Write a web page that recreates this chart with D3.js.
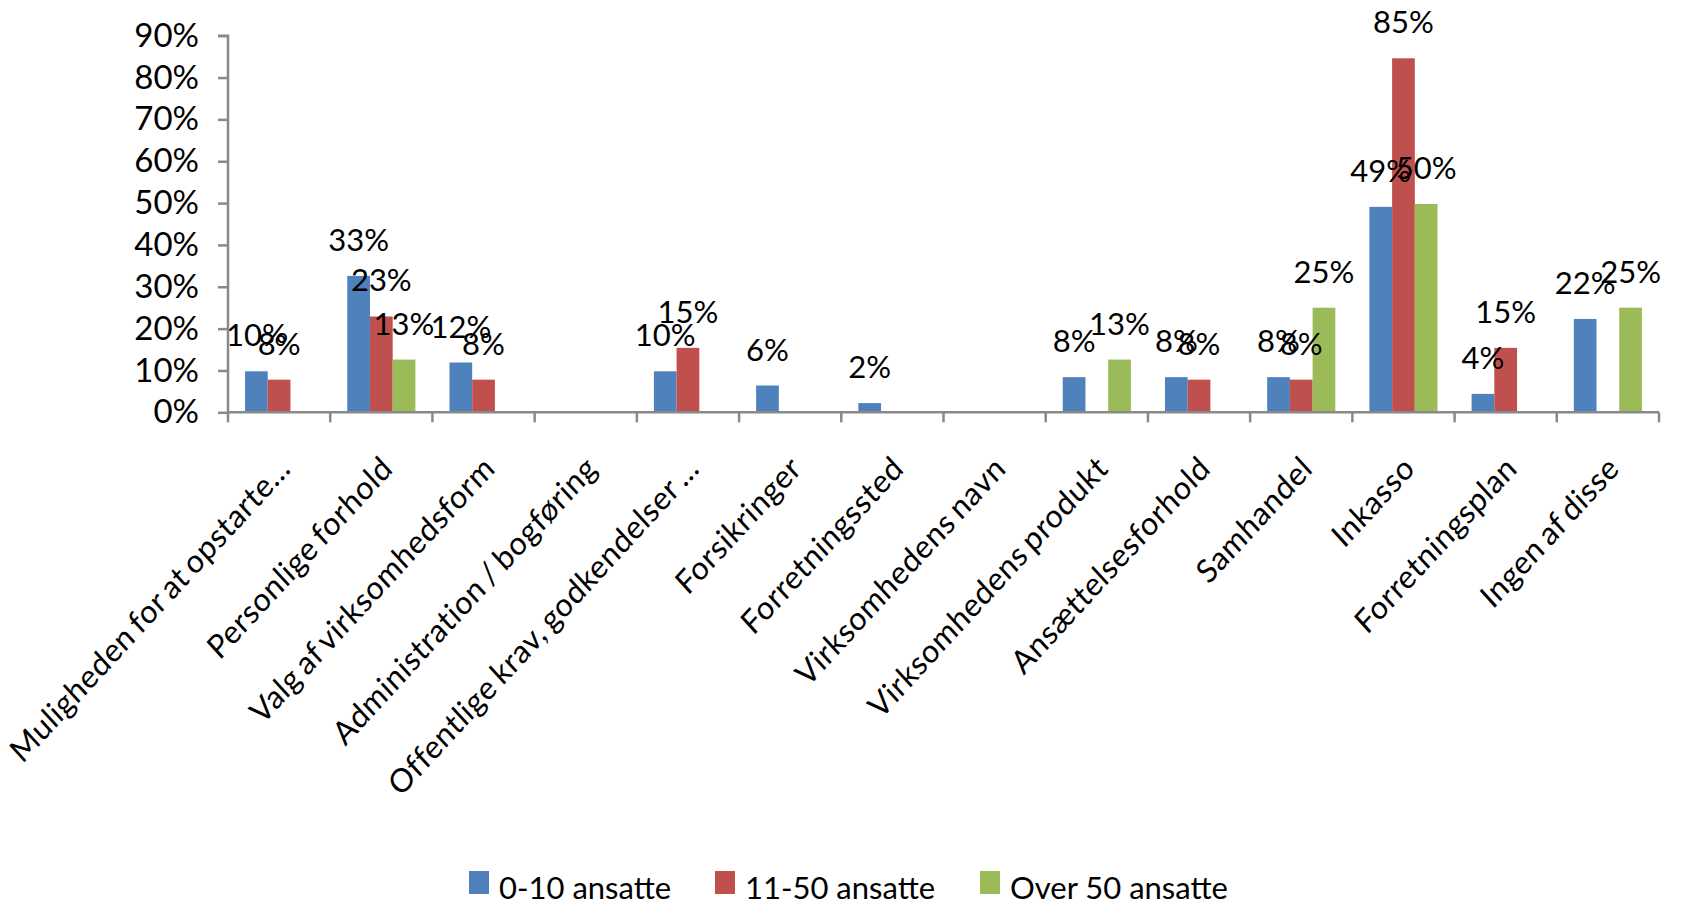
<!DOCTYPE html>
<html>
<head>
<meta charset="utf-8">
<script src="https://cdn.jsdelivr.net/npm/d3@7"></script>
<style>
  html, body { margin: 0; padding: 0; background: #ffffff; }
  svg { display: block; }
  text { font-family: Lato, "Open Sans", sans-serif; fill: #000; }
</style>
</head>
<body>
<svg id="chart" width="1683" height="906"></svg>
<script>
const categories = [
  "Muligheden for at opstarte...",
  "Personlige forhold",
  "Valg af virksomhedsform",
  "Administration / bogføring",
  "Offentlige krav, godkendelser ...",
  "Forsikringer",
  "Forretningssted",
  "Virksomhedens navn",
  "Virksomhedens produkt",
  "Ansættelsesforhold",
  "Samhandel",
  "Inkasso",
  "Forretningsplan",
  "Ingen af disse"
];
const seriesNames = ["0-10 ansatte", "11-50 ansatte", "Over 50 ansatte"];
const values0to10 = [0.098, 0.326, 0.119, 0, 0.098, 0.064, 0.022, 0, 0.084, 0.084, 0.084, 0.491, 0.044, 0.223];
const values11to50 = [0.078, 0.229, 0.078, 0, 0.154, 0, 0, 0, 0, 0.078, 0.078, 0.846, 0.154, 0];
const valuesOver50 = [0, 0.126, 0, 0, 0, 0, 0, 0, 0.126, 0, 0.25, 0.498, 0, 0.25];
const yTicks = [0, 0.1, 0.2, 0.3, 0.4, 0.5, 0.6, 0.7, 0.8, 0.9];
const colors = ["#4F81BD", "#C0504D", "#9BBB59"];

const seriesValues = [values0to10, values11to50, valuesOver50];

const svg = d3.select("#chart");
const plotLeft = 228, plotRight = 1659, plotTop = 35.7, plotBottom = 412.3;

const x0 = d3.scaleBand().domain(categories).range([plotLeft, plotRight]).paddingInner(0).paddingOuter(0);
const bw = x0.bandwidth() / 4.5;
const x1 = d3.scaleBand().domain(seriesNames)
  .range([(x0.bandwidth() - 3 * bw) / 2, (x0.bandwidth() + 3 * bw) / 2]);
const y = d3.scaleLinear().domain([0, 0.9]).range([plotBottom, plotTop]);

const axisColor = "#898989";
const pointsFor = (c, i) => seriesNames.map((s, j) => ({ s, j, v: seriesValues[j][i] })).filter(d => d.v > 0);

// bars
const groups = svg.append("g").selectAll("g")
  .data(categories).join("g")
  .attr("transform", d => `translate(${x0(d)},0)`);

groups.selectAll("rect")
  .data(pointsFor)
  .join("rect")
  .attr("x", d => x1(d.s))
  .attr("width", x1.bandwidth())
  .attr("y", d => y(d.v))
  .attr("height", d => plotBottom - y(d.v))
  .attr("fill", d => colors[d.j]);

// y axis
const yAxis = d3.axisLeft(y).tickValues(yTicks).tickFormat(d3.format(".0%")).tickSize(10).tickPadding(19);
const gy = svg.append("g").attr("transform", `translate(${plotLeft},0)`).call(yAxis);
gy.select(".domain").attr("stroke", axisColor).attr("stroke-width", 2.5)
  .attr("d", `M-10,${plotTop}H0V${plotBottom}`);
gy.selectAll(".tick line").attr("stroke", axisColor).attr("stroke-width", 2.5);
gy.selectAll(".tick text").attr("font-size", 33).attr("font-family", "Lato").attr("fill", "#000");

// x axis
const xAxisG = svg.append("g");
xAxisG.append("line").attr("x1", plotLeft - 1).attr("x2", plotRight).attr("y1", plotBottom).attr("y2", plotBottom)
  .attr("stroke", axisColor).attr("stroke-width", 2.5);
const boundaries = categories.map(c => x0(c)).concat([plotRight]);
xAxisG.selectAll("line.tk").data(boundaries).join("line").attr("class", "tk")
  .attr("x1", d => d).attr("x2", d => d).attr("y1", plotBottom).attr("y2", plotBottom + 10)
  .attr("stroke", axisColor).attr("stroke-width", 2.5);

// category labels
svg.append("g").selectAll("text").data(categories).join("text")
  .attr("transform", d => `translate(${x0(d) + x0.bandwidth() / 2 + 13},${plotBottom + 58}) scale(1,1.09) rotate(-45)`)
  .attr("text-anchor", "end")
  .attr("font-size", 30)
  .attr("letter-spacing", 0.6)
  .attr("word-spacing", -3)
  .text(d => d);

// data labels
groups.selectAll("text.lbl")
  .data(pointsFor)
  .join("text").attr("class", "lbl")
  .attr("x", d => x1(d.s) + x1.bandwidth() / 2)
  .attr("y", d => y(d.v) - 25)
  .attr("text-anchor", "middle")
  .attr("font-size", 31)
  .text(d => d3.format(".0%")(d.v));

// legend
const legendItems = [
  { name: seriesNames[0], x: 469 },
  { name: seriesNames[1], x: 715 },
  { name: seriesNames[2], x: 980 }
];
const lg = svg.append("g").selectAll("g").data(legendItems).join("g")
  .attr("transform", d => `translate(${d.x},0)`);
lg.append("rect").attr("x", 0).attr("y", 871).attr("width", 20).attr("height", 23)
  .attr("fill", (d, i) => colors[i]);
lg.append("text").attr("x", 30).attr("y", 899).attr("font-size", 31).text(d => d.name);
</script>
</body>
</html>
